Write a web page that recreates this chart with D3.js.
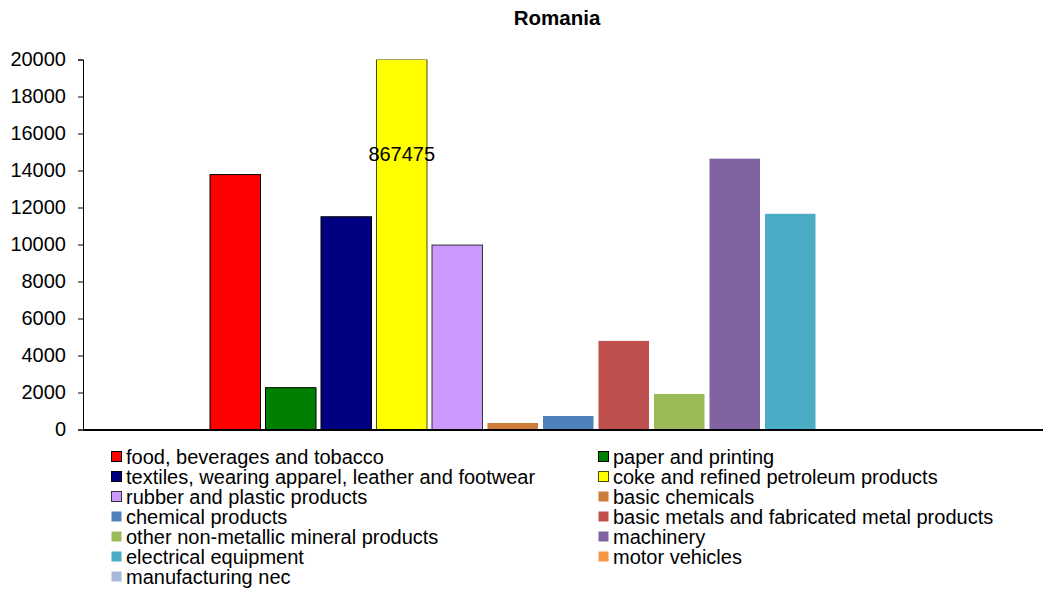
<!DOCTYPE html>
<html><head><meta charset="utf-8">
<script src="https://cdn.jsdelivr.net/npm/d3@7"></script>
<style>body{margin:0;background:#fff;} svg{display:block;font-family:"Liberation Sans",Arial,sans-serif;}</style>
</head><body><div id="chart"></div>
<script>
const title = "Romania";
const series = ["food, beverages and tobacco","paper and printing","textiles, wearing apparel, leather and footwear","coke and refined petroleum products","rubber and plastic products","basic chemicals","chemical products","basic metals and fabricated metal products","other non-metallic mineral products","machinery","electrical equipment","motor vehicles","manufacturing nec"];
const values = [13780, 2260, 11500, 867475, 9970, 350, 730, 4790, 1920, 14640, 11660, 0, 0];
const colors = ["#FF0000","#008000","#000080","#FFFF00","#CC99FF","#CD7B39","#4F81BD","#C0504D","#9BBB59","#8064A2","#4BACC6","#F79646","#A9B8D9"];
const strokes = ["#000","#000","#000","#4d4d00","#333",null,null,null,null,null,null,null,null];
const yTicks = [0,2000,4000,6000,8000,10000,12000,14000,16000,18000,20000];
const labelled = [3];

const W = 1043, H = 594;
const svg = d3.select("#chart").append("svg").attr("width", W).attr("height", H);
const y = d3.scaleLinear().domain([0, 20000]).range([429.5, 59.5]);
const x = d3.scaleBand().domain(series).range([207.5, 929]).paddingInner(0.09).paddingOuter(0.045);

svg.append("text").attr("x", 557).attr("y", 25).attr("text-anchor", "middle")
  .attr("font-weight", "bold").attr("font-size", 20.5).text(title);

svg.append("defs").append("clipPath").attr("id","clip").append("rect")
  .attr("x", 83).attr("y", y(20000)).attr("width", 1000).attr("height", y(0)-y(20000));

svg.append("g").attr("clip-path","url(#clip)").selectAll("rect").data(series).join("rect")
  .attr("x", d => x(d)).attr("width", x.bandwidth())
  .attr("y", (d,i) => y(Math.min(values[i], 20000)))
  .attr("height", (d,i) => y(0) - y(Math.min(values[i], 20000)))
  .attr("fill", (d,i) => colors[i])
  .attr("stroke", (d,i) => strokes[i] || "none").attr("stroke-width", 1);

const yAxis = d3.axisLeft(y).tickValues(yTicks).tickSize(5).tickPadding(12).tickFormat(d3.format("d"));
const gy = svg.append("g").attr("transform", "translate(83,0)").call(yAxis);
gy.select(".domain").attr("stroke", "#000");
gy.selectAll("text").attr("font-size", 20).attr("fill", "#000").attr("font-family", "Liberation Sans, Arial, sans-serif");

svg.append("line").attr("x1", 83).attr("x2", W).attr("y1", y(0)+0.5).attr("y2", y(0)+0.5)
  .attr("stroke", "#000").attr("stroke-width", 2);

labelled.forEach(i => {
  svg.append("text").attr("x", x(series[i]) + x.bandwidth()/2).attr("y", 161)
    .attr("text-anchor", "middle").attr("font-size", 20).text(d3.format("d")(values[i]));
});

const leg = svg.append("g");
series.forEach((s, i) => {
  const col = i % 2, row = Math.floor(i / 2);
  const lx = col === 0 ? 111 : 598, ly = 457 + row * 20;
  leg.append("rect").attr("x", lx + 0.5).attr("y", ly - 5.5).attr("width", 10).attr("height", 10)
    .attr("fill", colors[i]).attr("stroke", strokes[i] || "none");
  leg.append("text").attr("x", lx + 15).attr("y", ly + 7).attr("font-size", 20)
    .attr("letter-spacing", 0).text(s);
});
</script></body></html>
